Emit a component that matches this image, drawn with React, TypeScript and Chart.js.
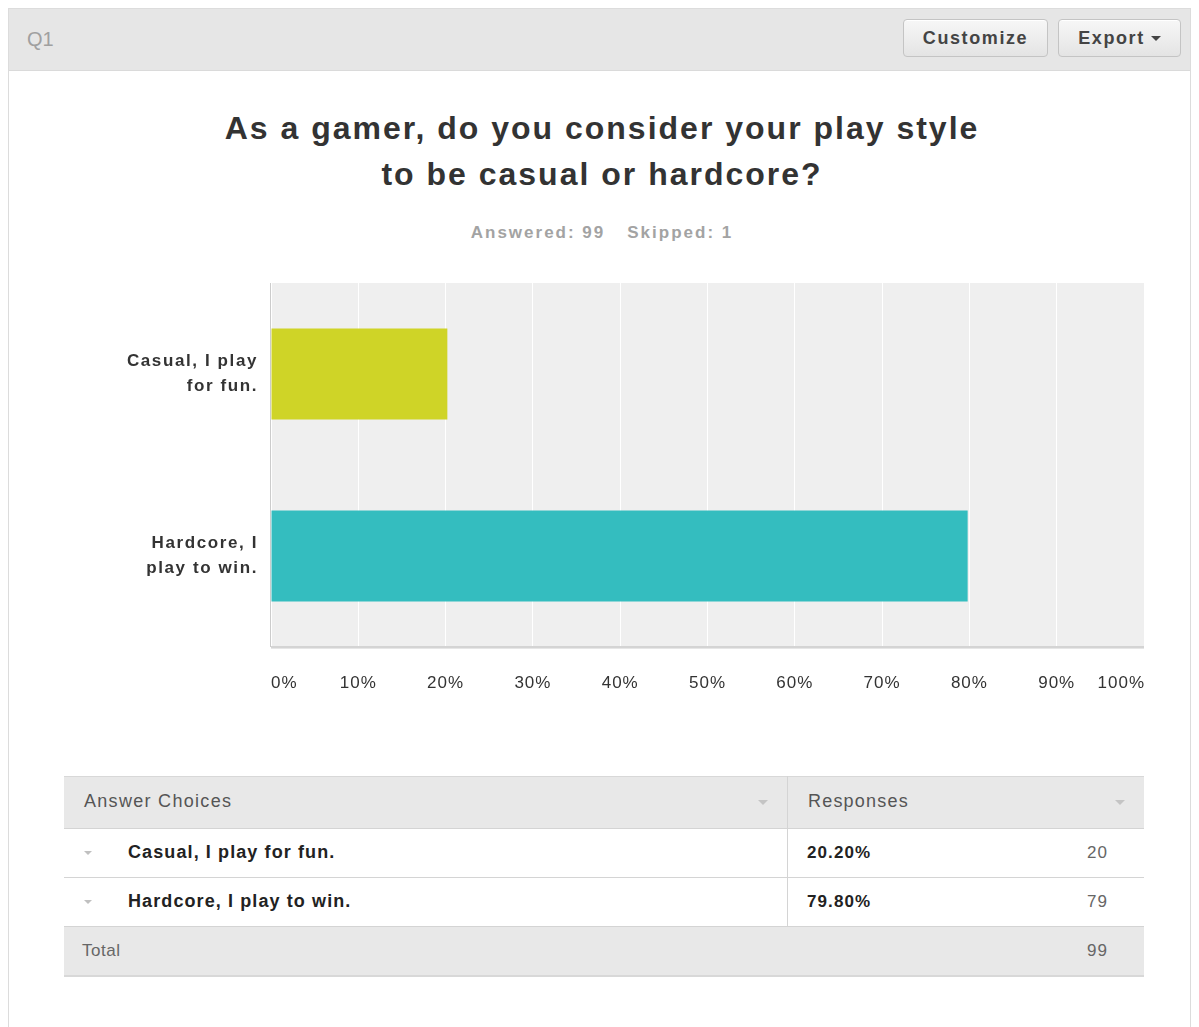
import React, { useEffect, useRef } from "react";
import { Chart, registerables } from "chart.js";

Chart.register(...registerables);

const categories: string[][] = [["Casual, I play", "for fun."], ["Hardcore, I", "play to win."]];
const percentValues: number[] = [20.2, 79.8];
const barColors: string[] = ["#cfd427", "#34bdbf"];
const tableChoices: string[] = ["Casual, I play for fun.", "Hardcore, I play to win."];
const tablePercents: string[] = ["20.20%", "79.80%"];
const tableCounts: number[] = [20, 79];
const totalCount = 99;
const answered = 99;
const skipped = 1;

const FONT = "'Liberation Sans', Arial, Helvetica, sans-serif";

const bgPlugin = {
  id: "plotBg",
  beforeDraw(chart: any) {
    const { ctx, chartArea } = chart;
    (ctx as any).letterSpacing = "1.6px";
    ctx.save();
    ctx.fillStyle = "#efefef";
    ctx.fillRect(chartArea.left, chartArea.top, chartArea.right - chartArea.left, chartArea.bottom - chartArea.top);
    ctx.restore();
  },
  afterDraw(chart: any) {
    const { ctx, chartArea } = chart;
    const xs = chart.scales.x;
    ctx.save();
    ctx.fillStyle = "#d4d4d4";
    ctx.fillRect(chartArea.left, chartArea.bottom - 1, chartArea.right - chartArea.left, 2);
    ctx.fillStyle = "#e6e6e6";
    ctx.fillRect(chartArea.left, chartArea.bottom + 1, chartArea.right - chartArea.left, 1);
    ctx.fillStyle = "#cccccc";
    ctx.fillRect(chartArea.left - 1, chartArea.top, 1, chartArea.bottom - chartArea.top);
    ctx.font = `17px ${FONT}`;
    (ctx as any).letterSpacing = "1px";
    ctx.fillStyle = "#333333";
    ctx.textBaseline = "middle";
    const ticks = xs.ticks;
    ticks.forEach((t: any, i: number) => {
      const x = xs.getPixelForValue(t.value);
      const label = `${t.value}%`;
      if (i === 0) ctx.textAlign = "left";
      else if (i === ticks.length - 1) ctx.textAlign = "right";
      else ctx.textAlign = "center";
      ctx.fillText(label, x + (i === ticks.length - 1 ? 1 : 0), chartArea.bottom + 36);
    });
    ctx.restore();
  },
};

function BarChart() {
  const ref = useRef<HTMLCanvasElement | null>(null);
  useEffect(() => {
    if (!ref.current) return;
    const chart = new Chart(ref.current, {
      type: "bar",
      data: {
        labels: categories,
        datasets: [
          {
            data: percentValues,
            backgroundColor: barColors,
            borderWidth: 0,
            barPercentage: 0.5,
            categoryPercentage: 1,
          },
        ],
      },
      options: {
        indexAxis: "y",
        animation: false,
        responsive: false,
        layout: { padding: { top: 13, right: 36, left: 0, bottom: 0 } },
        plugins: { legend: { display: false }, tooltip: { enabled: false } },
        scales: {
          x: {
            min: 0,
            max: 100,
            ticks: { stepSize: 10, display: false },
            grid: { color: "#ffffff", lineWidth: 1, drawTicks: false },
            border: { display: false },
            afterFit(scale: any) {
              scale.height = 63;
              scale.paddingLeft = 0;
              scale.paddingRight = 0;
            },
          },
          y: {
            grid: { display: false, drawTicks: false },
            border: { display: false },
            ticks: {
              color: "#333333",
              padding: 13,
              font: { family: FONT, size: 17, weight: "bold", lineHeight: 1.47 },
            },
            afterFit(scale: any) {
              scale.width = 251;
              scale.paddingTop = 0;
              scale.paddingBottom = 0;
            },
          },
        },
      },
      plugins: [bgPlugin],
    } as any);
    return () => chart.destroy();
  }, []);
  return <canvas ref={ref} width={1160} height={440} style={{ position: "absolute", left: 12, top: 262, width: 1160, height: 440 }} />;
}

const tri = (color: string, size = 5) => (
  <span
    style={{
      display: "inline-block",
      width: 0,
      height: 0,
      borderLeft: `${size}px solid transparent`,
      borderRight: `${size}px solid transparent`,
      borderTop: `${size}px solid ${color}`,
    }}
  />
);

export default function App() {
  const btn: React.CSSProperties = {
    position: "absolute",
    top: 10,
    height: 38,
    boxSizing: "border-box",
    border: "1px solid #c4c4c4",
    borderRadius: 4,
    background: "linear-gradient(#f7f7f7, #e4e4e4)",
    font: `bold 18px ${FONT}`,
    letterSpacing: "1.6px",
    color: "#444",
    display: "flex",
    alignItems: "center",
    justifyContent: "center",
    boxShadow: "inset 0 1px 0 #fff",
  };
  const rowText: React.CSSProperties = { position: "absolute", font: `bold 18px ${FONT}`, color: "#222", letterSpacing: "1.1px" };
  const rowH = 49;
  return (
    <div style={{ position: "relative", width: 1184, height: 1030, fontFamily: FONT }}>
      <div style={{ position: "absolute", left: 0, top: 0, width: 1183, height: 1030, border: "1px solid #dcdcdc", boxSizing: "border-box", background: "#fff" }} />
      <div style={{ position: "absolute", left: 1, top: 1, width: 1181, height: 61, background: "#e6e6e6", borderBottom: "1px solid #dadada" }}>
        <div style={{ position: "absolute", left: 18, top: 19, font: `20px ${FONT}`, color: "#a0a0a0" }}>Q1</div>
        <div style={{ ...btn, left: 894, width: 145 }}>Customize</div>
        <div style={{ ...btn, left: 1049, width: 123 }}>
          Export <span style={{ marginLeft: 6, display: "inline-flex" }}>{tri("#444", 5)}</span>
        </div>
      </div>
      <div style={{ position: "absolute", left: 0, width: 1188, top: 97, textAlign: "center", font: `bold 32px ${FONT}`, letterSpacing: "2px", color: "#333", lineHeight: "46px" }}>
        As a gamer, do you consider your play style
        <br />
        to be casual or hardcore?
      </div>
      <div style={{ position: "absolute", left: 0, width: 1188, top: 215, textAlign: "center", font: `bold 17px ${FONT}`, letterSpacing: "2px", color: "#a3a3a3" }}>
        Answered: {answered}
        <span style={{ marginLeft: 22 }}>Skipped: {skipped}</span>
      </div>
      <BarChart />
      <div style={{ position: "absolute", left: 56, top: 768, width: 1080, height: 210 }}>
        <div style={{ position: "absolute", left: 0, top: 0, width: 1080, height: 53, background: "#e8e8e8", borderTop: "1px solid #d8d8d8", borderBottom: "1px solid #d4d4d4", boxSizing: "border-box" }} />
        <div style={{ position: "absolute", left: 20, top: 15, font: `18px ${FONT}`, letterSpacing: "1.3px", color: "#555" }}>Answer Choices</div>
        <div style={{ position: "absolute", left: 694, top: 24, display: "flex" }}>{tri("#c4c4c4", 5)}</div>
        <div style={{ position: "absolute", left: 744, top: 15, font: `18px ${FONT}`, letterSpacing: "1.2px", color: "#555" }}>Responses</div>
        <div style={{ position: "absolute", left: 1051, top: 24, display: "flex" }}>{tri("#c4c4c4", 5)}</div>
        <div style={{ position: "absolute", left: 723, top: 0, width: 1, height: 53 + 2 * rowH, background: "#d4d4d4" }} />
        {tableChoices.map((c, i) => (
          <React.Fragment key={c}>
            <div style={{ position: "absolute", left: 0, top: 53 + i * rowH + 48, width: 1080, height: 1, background: "#d4d4d4" }} />
            <div style={{ position: "absolute", left: 20, top: 53 + i * rowH + 22, display: "flex" }}>{tri("#c0c0c0", 4)}</div>
            <div style={{ ...rowText, left: 64, top: 53 + i * rowH + 13 }}>{c}</div>
            <div style={{ ...rowText, left: 743, top: 53 + i * rowH + 14, fontSize: 17 }}>{tablePercents[i]}</div>
            <div style={{ position: "absolute", right: 36, top: 53 + i * rowH + 14, font: `17px ${FONT}`, letterSpacing: "1px", color: "#666" }}>{tableCounts[i]}</div>
          </React.Fragment>
        ))}
        <div style={{ position: "absolute", left: 0, top: 53 + 2 * rowH, width: 1080, height: 50, background: "#e8e8e8", borderBottom: "2px solid #d8d8d8", boxSizing: "border-box" }} />
        <div style={{ position: "absolute", left: 18, top: 53 + 2 * rowH + 14, font: `17px ${FONT}`, letterSpacing: "0.5px", color: "#666" }}>Total</div>
        <div style={{ position: "absolute", right: 36, top: 53 + 2 * rowH + 14, font: `17px ${FONT}`, letterSpacing: "1px", color: "#666" }}>{totalCount}</div>
      </div>
    </div>
  );
}
